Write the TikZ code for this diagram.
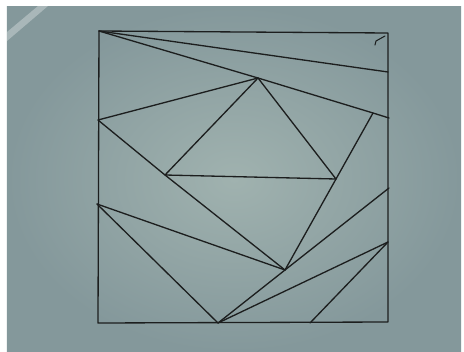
\documentclass[tikz,border=0pt]{standalone}
\usepackage{tikz}
\usetikzlibrary{positioning}
\usetikzlibrary{calc}

\definecolor{fabric}{RGB}{160,178,175}
\definecolor{fabricdark}{RGB}{132,152,155}
\definecolor{thread}{RGB}{28,30,30}

\tikzset{
    stitch/.style={draw=thread, line width=0.75pt, line cap=round, line join=round},
}

\begin{document}
\begin{tikzpicture}[x=0.02cm, y=-0.02cm]
    % cloth
    \useasboundingbox (0,0) rectangle (464,352);
    \fill[white] (0,0) rectangle (464,352);
    \shade[inner color=fabric, outer color=fabricdark] (7,6) rectangle (461,352);
    \fill[white, opacity=0.3] (7,32) -- (38,6) -- (48,6) -- (7,41) -- cycle;

    % corners of the square
    \coordinate (tl) at (99,31);
    \coordinate (tr) at (388,33);
    \coordinate (br) at (388,322);
    \coordinate (bl) at (98,323);

    % points on the sides
    \coordinate (l1) at (98,120);
    \coordinate (l2) at (97,204);
    \coordinate (r0) at (388,72);
    \coordinate (r1) at (389,118);
    \coordinate (r2) at (389,188);
    \coordinate (r3) at (388,242);
    \coordinate (b1) at (218,323);
    \coordinate (b2) at (310,323);

    % inner points
    \coordinate (p) at (258,78);
    \coordinate (q1) at (165,175);
    \coordinate (q2) at (336,179);
    \coordinate (m) at (285,270);
    \coordinate (s) at (373,113);

    \draw[stitch] (tl) -- (tr) -- (br) -- (bl) -- cycle;

    \draw[stitch] (tl) -- (r0);
    \draw[stitch] (tl) -- (p) -- (s) -- (r1);
    \draw[stitch] (l1) -- (p);
    \draw[stitch] (p) -- (q1) -- (q2) -- cycle;
    \draw[stitch] (l1) -- (q1) -- (m);
    \draw[stitch] (s) -- (q2) -- (m);
    \draw[stitch] (l2) -- (m);
    \draw[stitch] (l2) -- (b1);
    \draw[stitch] (b1) -- (m) -- (r2);
    \draw[stitch] (b1) -- (r3);
    \draw[stitch] (b2) -- (r3);

    % loose end at the corner
    \coordinate (hook) at (375,45);
    \draw[stitch, line width=0.6pt] (hook) -- ++(1,-4) -- (385,36);
\end{tikzpicture}
\end{document}
